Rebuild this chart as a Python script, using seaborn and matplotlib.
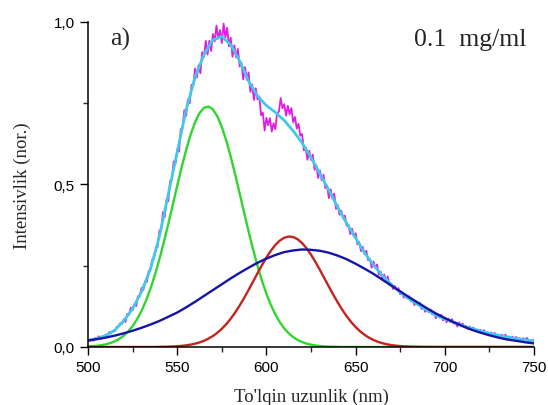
import numpy as np
import matplotlib
matplotlib.use("Agg")
import matplotlib.pyplot as plt
from matplotlib.ticker import MultipleLocator
import seaborn as sns

# coarse grid (nm) for the broad curves
wl = [500, 505, 510, 515, 520, 525, 530, 535, 540, 545, 550, 555, 560, 565, 570, 575,
      580, 585, 590, 595, 600, 605, 610, 615, 620, 625, 630, 635, 640, 645, 650, 655,
      660, 665, 670, 675, 680, 685, 690, 695, 700, 705, 710, 715, 720, 725, 730, 735,
      740, 745, 750]

blue = [0.020, 0.024, 0.029, 0.035, 0.042, 0.050, 0.059, 0.069, 0.080, 0.093, 0.106, 0.122,
        0.139, 0.157, 0.175, 0.193, 0.211, 0.228, 0.244, 0.259, 0.272, 0.283, 0.292, 0.297,
        0.300, 0.299, 0.296, 0.290, 0.281, 0.270, 0.256, 0.241, 0.225, 0.207, 0.189, 0.171,
        0.153, 0.136, 0.119, 0.103, 0.089, 0.076, 0.064, 0.053, 0.044, 0.036, 0.029, 0.023,
        0.019, 0.0145, 0.011]

cyan = [0.020, 0.026, 0.035, 0.052, 0.080, 0.118, 0.17, 0.24, 0.34, 0.47, 0.60, 0.73, 0.83,
        0.90, 0.945, 0.955, 0.93, 0.88, 0.818, 0.772, 0.743, 0.722, 0.697, 0.665, 0.628, 0.583,
        0.533, 0.482, 0.43, 0.38, 0.335, 0.29, 0.252, 0.22, 0.192, 0.168, 0.148, 0.13, 0.113,
        0.098, 0.086, 0.076, 0.066, 0.057, 0.049, 0.042, 0.036, 0.031, 0.026, 0.022, 0.019]

# fine grid (every 2.5 nm) for the narrower peaks
wl_fine = np.arange(500, 750.1, 2.5)

green = [0.0015, 0.0023, 0.0036, 0.0055, 0.0082, 0.0121, 0.0175, 0.0248, 0.0347, 0.0476,
         0.0643, 0.0853, 0.1111, 0.1424, 0.1792, 0.2217, 0.2696, 0.3223, 0.3785, 0.437,
         0.4959, 0.553, 0.606, 0.653, 0.6915, 0.7195, 0.736, 0.74, 0.731, 0.7097,
         0.6772, 0.635, 0.5856, 0.5305, 0.4724, 0.4135, 0.3557, 0.3006, 0.2498, 0.204,
         0.1638, 0.1292, 0.1001, 0.0763, 0.0571, 0.0421, 0.0304, 0.0216, 0.0151, 0.0104,
         0.007, 0.0047, 0.003, 0.0019, 0.0012, 0.0007, 0.0004] + [0.0] * 44

red = [0.0] * 16 + [
    0.0004, 0.0007, 0.0010, 0.0016, 0.0024, 0.0035, 0.0051, 0.0072, 0.0102, 0.014,
    0.0191, 0.0256, 0.0337, 0.0438, 0.0559, 0.0703, 0.0871, 0.1063, 0.1276, 0.1508,
    0.1755, 0.2011, 0.2268, 0.2518, 0.2753, 0.2962, 0.3139, 0.3274, 0.3362, 0.3399,
    0.3383, 0.3315, 0.3198, 0.3037, 0.284, 0.2614, 0.2369, 0.2114, 0.1857, 0.1606,
    0.1367, 0.1146, 0.0945, 0.0768, 0.0614, 0.0484, 0.0375, 0.0286, 0.0215, 0.0159,
    0.0116, 0.0083, 0.0059, 0.0041, 0.0028, 0.0019, 0.0012, 0.0008, 0.0005, 0.0003,
    0.0002] + [0.0] * 24

# measured spectrum, every 1 nm (500..750)
wl_meas = np.arange(500, 751, 1)
meas = [
    0.024, 0.019, 0.024, 0.019, 0.028, 0.026, 0.033, 0.026, 0.033, 0.029,  # 500
    0.038, 0.037, 0.046, 0.042, 0.050, 0.048, 0.061, 0.062, 0.073, 0.071,  # 510
    0.085, 0.077, 0.102, 0.099, 0.121, 0.113, 0.132, 0.126, 0.156, 0.157,  # 520
    0.182, 0.175, 0.201, 0.200, 0.233, 0.238, 0.269, 0.272, 0.302, 0.307,  # 530
    0.358, 0.360, 0.415, 0.400, 0.454, 0.448, 0.511, 0.515, 0.571, 0.562,  # 540
    0.608, 0.601, 0.670, 0.673, 0.729, 0.711, 0.762, 0.750, 0.807, 0.804,  # 550
    0.857, 0.829, 0.867, 0.842, 0.907, 0.893, 0.942, 0.900, 0.942, 0.911,  # 560
    0.963, 0.940, 0.989, 0.949, 0.975, 0.935, 0.995, 0.952, 0.982, 0.925,  # 570
    0.952, 0.893, 0.928, 0.891, 0.917, 0.863, 0.875, 0.823, 0.861, 0.822,  # 580
    0.845, 0.785, 0.808, 0.760, 0.796, 0.762, 0.771, 0.713, 0.721, 0.666,  # 590
    0.705, 0.682, 0.704, 0.663, 0.688, 0.670, 0.719, 0.724, 0.766, 0.735,  # 600
    0.747, 0.712, 0.742, 0.716, 0.735, 0.691, 0.708, 0.672, 0.687, 0.650,  # 610
    0.655, 0.605, 0.614, 0.576, 0.604, 0.575, 0.592, 0.545, 0.559, 0.520,  # 620
    0.543, 0.513, 0.530, 0.489, 0.497, 0.458, 0.485, 0.456, 0.472, 0.425,  # 630
    0.436, 0.407, 0.419, 0.396, 0.404, 0.373, 0.376, 0.347, 0.364, 0.341,  # 640
    0.350, 0.316, 0.323, 0.295, 0.308, 0.286, 0.296, 0.267, 0.271, 0.244,  # 650
    0.263, 0.243, 0.254, 0.222, 0.232, 0.207, 0.223, 0.204, 0.217, 0.190,  # 660
    0.195, 0.178, 0.188, 0.175, 0.181, 0.162, 0.168, 0.152, 0.161, 0.149,  # 670
    0.156, 0.140, 0.144, 0.129, 0.140, 0.129, 0.136, 0.117, 0.124, 0.108,  # 680
    0.118, 0.107, 0.115, 0.100, 0.104, 0.089, 0.101, 0.091, 0.099, 0.082,  # 690
    0.090, 0.076, 0.087, 0.077, 0.086, 0.072, 0.077, 0.063, 0.076, 0.066,  # 700
    0.072, 0.060, 0.064, 0.055, 0.063, 0.055, 0.060, 0.051, 0.054, 0.045,  # 710
    0.053, 0.046, 0.052, 0.040, 0.045, 0.037, 0.045, 0.038, 0.043, 0.034,  # 720
    0.038, 0.029, 0.038, 0.032, 0.038, 0.027, 0.032, 0.024, 0.032, 0.025,  # 730
    0.031, 0.023, 0.027, 0.018, 0.027, 0.021, 0.028, 0.017, 0.022, 0.014,  # 740
    0.023]

sns.set_style("ticks")
plt.rcParams['font.family'] = ['Liberation Sans', 'DejaVu Sans']

fig = plt.figure(figsize=(5.48, 4.06), dpi=100)
ax = fig.add_axes([0.1606, 0.1429, 0.8139, 0.8005])

kw = dict(ax=ax, estimator=None, sort=False, legend=False)
sns.lineplot(x=wl_meas, y=meas, color="#e01ee0", lw=1.3, **kw)
sns.lineplot(x=wl, y=cyan, color="#3fc9ea", lw=2.0, **kw)
sns.lineplot(x=wl_fine, y=green, color="#2fd62f", lw=1.7, **kw)
sns.lineplot(x=wl_fine, y=red, color="#c8221e", lw=1.7, **kw)
sns.lineplot(x=wl, y=blue, color="#1414a8", lw=1.7, **kw)

ax.set_xlim(500, 750)
ax.set_ylim(0, 1.0)
ax.xaxis.set_major_locator(MultipleLocator(50))
ax.xaxis.set_minor_locator(MultipleLocator(25))
ax.set_yticks([0, 0.5, 1.0])
ax.set_yticklabels(["0,0", "0,5", "1,0"])
ax.yaxis.set_minor_locator(MultipleLocator(0.25))
ax.tick_params(which="major", length=6, width=1, labelsize=11, colors="black")
ax.tick_params(which="minor", length=3.5, width=1)
sns.despine(ax=ax)
for s in ["left", "bottom"]:
    ax.spines[s].set_linewidth(1.1)
    ax.spines[s].set_color("black")

serif = ['Liberation Serif', 'DejaVu Serif']
ax.set_xlabel("To'lqin uzunlik (nm)", family=serif, fontsize=13.5, labelpad=10)
ax.set_ylabel("Intensivlik (nor.)", family=serif, fontsize=13.5, labelpad=16)
ax.text(0.05, 0.93, "a)", transform=ax.transAxes, family=serif, fontsize=18.5)
ax.text(0.73, 0.93, "0.1  mg/ml", transform=ax.transAxes, family=serif, fontsize=18.5)

fig.savefig("out.png", dpi=100)
